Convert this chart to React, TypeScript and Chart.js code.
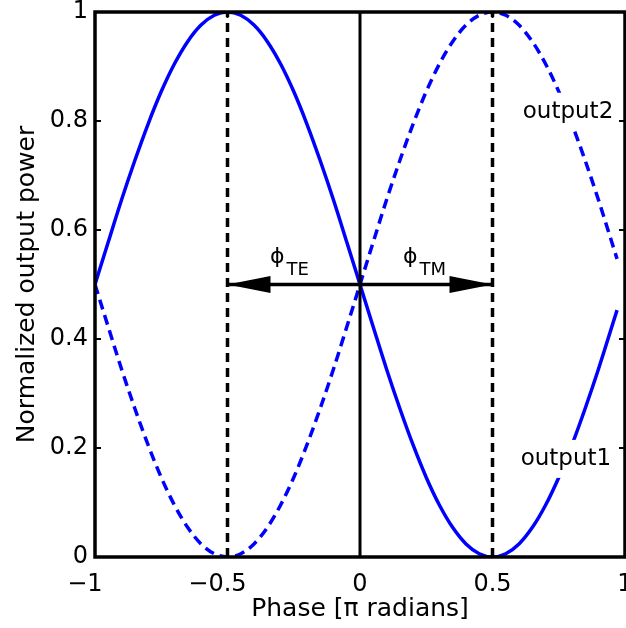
import React, { useEffect, useRef } from 'react';
import { Chart, registerables } from 'chart.js';

Chart.register(...registerables);

const FONT = '"DejaVu Sans", "Liberation Sans", sans-serif';
const BLUE = '#0000ff';
const INK = '#000000';

// Phase in units of pi radians
const PHASE = [
  -1, -0.95, -0.9, -0.85, -0.8, -0.75, -0.7, -0.65, -0.6, -0.55,
  -0.5, -0.45, -0.4, -0.35, -0.3, -0.25, -0.2, -0.15, -0.1, -0.05,
  0, 0.05, 0.1, 0.15, 0.2, 0.25, 0.3, 0.35, 0.4, 0.45,
  0.5, 0.55, 0.6, 0.65, 0.7, 0.75, 0.8, 0.85, 0.9, 0.95, 0.97,
];

// Normalized power at output 1 (solid)
const OUTPUT1 = [
  0.5, 0.578, 0.655, 0.727, 0.794, 0.854, 0.905, 0.946, 0.976, 0.994,
  1.0, 0.994, 0.976, 0.946, 0.905, 0.854, 0.794, 0.727, 0.655, 0.578,
  0.5, 0.422, 0.345, 0.273, 0.206, 0.146, 0.095, 0.054, 0.024, 0.006,
  0.0, 0.006, 0.024, 0.054, 0.095, 0.146, 0.206, 0.273, 0.345, 0.422, 0.453,
];

// Normalized power at output 2 (dashed)
const OUTPUT2 = [
  0.5, 0.422, 0.345, 0.273, 0.206, 0.146, 0.095, 0.054, 0.024, 0.006,
  0.0, 0.006, 0.024, 0.054, 0.095, 0.146, 0.206, 0.273, 0.345, 0.422,
  0.5, 0.578, 0.655, 0.727, 0.794, 0.854, 0.905, 0.946, 0.976, 0.994,
  1.0, 0.994, 0.976, 0.946, 0.905, 0.854, 0.794, 0.727, 0.655, 0.578, 0.547,
];

const X_TICKS = [-1, -0.5, 0, 0.5, 1];
const X_TICK_LABELS = ['−1', '−0.5', '0', '0.5', '1'];
const Y_TICKS = [0, 0.2, 0.4, 0.6, 0.8, 1];
const Y_TICK_LABELS = ['0', '0.2', '0.4', '0.6', '0.8', '1'];

// Reference markers: TE / TM phase points, the zero-phase line, and the arrow level
const PEAK_PHASES = [-0.5, 0.5];
const CENTER_PHASE = 0;
const ARROW_POWER = 0.5;

// Curve names, anchored at the centre of their baseline
const CURVE_LABELS = ['output2', 'output1'];
const CURVE_LABEL_PHASE = [0.785, 0.777];
const CURVE_LABEL_POWER = [0.806, 0.169];

// Phase-shift labels (phi with subscript), anchored at the left of the phi baseline
const PHI_SUBSCRIPTS = ['TE', 'TM'];
const PHI_LABEL_PHASE = [-0.34, 0.162];
const PHI_LABEL_POWER = [0.539, 0.539];

const toPoints = (ys: number[]) => PHASE.map((x, i) => ({ x, y: ys[i] }));

const decorations = {
  id: 'decorations',
  afterDatasetsDraw(chart: any) {
    const { ctx, chartArea, scales } = chart;
    const { left, right, top, bottom } = chartArea;
    const xs = scales.x;
    const ys = scales.y;
    ctx.save();

    // arrow heads at the TE / TM phase points
    const ay = ys.getPixelForValue(ARROW_POWER);
    ctx.fillStyle = INK;
    PEAK_PHASES.forEach((p) => {
      const tip = xs.getPixelForValue(p);
      const dir = p < CENTER_PHASE ? 1 : -1;
      const base = tip + dir * 43;
      ctx.beginPath();
      ctx.moveTo(tip, ay);
      ctx.lineTo(base, ay - 8.5);
      ctx.lineTo(base, ay + 8.5);
      ctx.closePath();
      ctx.fill();
    });

    // curve names on a white patch
    ctx.font = `23px ${FONT}`;
    ctx.textAlign = 'center';
    ctx.textBaseline = 'alphabetic';
    CURVE_LABELS.forEach((text, i) => {
      const cx = xs.getPixelForValue(CURVE_LABEL_PHASE[i]);
      const by = ys.getPixelForValue(CURVE_LABEL_POWER[i]);
      const w = ctx.measureText(text).width;
      ctx.fillStyle = '#ffffff';
      ctx.fillRect(cx - w / 2 - 5, by - 25, w + 10, 38);
      ctx.fillStyle = INK;
      ctx.fillText(text, cx, by);
    });

    // phi labels with subscripts
    ctx.textAlign = 'left';
    PHI_SUBSCRIPTS.forEach((sub, i) => {
      const px = xs.getPixelForValue(PHI_LABEL_PHASE[i]);
      const py = ys.getPixelForValue(PHI_LABEL_POWER[i]);
      ctx.font = `22px ${FONT}`;
      ctx.fillText('ϕ', px, py);
      const pw = ctx.measureText('ϕ').width;
      ctx.font = `18px ${FONT}`;
      ctx.fillText(sub, px + pw + 2, py + 12);
    });

    // axes box
    ctx.strokeStyle = INK;
    ctx.lineWidth = 3.5;
    ctx.strokeRect(left, top, right - left, bottom - top);

    // inward tick marks on all four sides
    ctx.lineWidth = 2;
    ctx.beginPath();
    X_TICKS.forEach((v) => {
      const px = xs.getPixelForValue(v);
      ctx.moveTo(px, bottom);
      ctx.lineTo(px, bottom - 6);
      ctx.moveTo(px, top);
      ctx.lineTo(px, top + 6);
    });
    Y_TICKS.forEach((v) => {
      const py = ys.getPixelForValue(v);
      ctx.moveTo(left, py);
      ctx.lineTo(left + 6, py);
      ctx.moveTo(right, py);
      ctx.lineTo(right - 6, py);
    });
    ctx.stroke();

    // x tick labels, digits centred under the tick
    ctx.font = `24px ${FONT}`;
    ctx.fillStyle = INK;
    ctx.textAlign = 'right';
    ctx.textBaseline = 'alphabetic';
    X_TICKS.forEach((v, i) => {
      const label = X_TICK_LABELS[i];
      const px = xs.getPixelForValue(v);
      const dw = ctx.measureText(label.replace('−', '')).width;
      ctx.fillText(label, px + dw / 2, bottom + 34);
    });

    ctx.restore();
  },
};

export default function App() {
  const canvasRef = useRef<HTMLCanvasElement | null>(null);

  useEffect(() => {
    const canvas = canvasRef.current;
    if (!canvas) return;

    const chart = new Chart(canvas, {
      type: 'line',
      data: {
        datasets: [
          {
            data: [{ x: CENTER_PHASE, y: Y_TICKS[0] }, { x: CENTER_PHASE, y: Y_TICKS[Y_TICKS.length - 1] }],
            borderColor: INK,
            borderWidth: 3,
          },
          ...PEAK_PHASES.map((p) => ({
            data: [{ x: p, y: Y_TICKS[0] }, { x: p, y: Y_TICKS[Y_TICKS.length - 1] }],
            borderColor: INK,
            borderWidth: 3.5,
            borderDash: [9, 6],
          })),
          {
            data: [{ x: PEAK_PHASES[0], y: ARROW_POWER }, { x: PEAK_PHASES[1], y: ARROW_POWER }],
            borderColor: INK,
            borderWidth: 3.5,
          },
          {
            label: 'output1',
            data: toPoints(OUTPUT1),
            borderColor: BLUE,
            borderWidth: 3.5,
            cubicInterpolationMode: 'monotone',
          },
          {
            label: 'output2',
            data: toPoints(OUTPUT2),
            borderColor: BLUE,
            borderWidth: 3.5,
            borderDash: [10, 6],
            cubicInterpolationMode: 'monotone',
          },
        ] as any,
      },
      options: {
        animation: false,
        responsive: false,
        events: [],
        layout: { padding: { top: 12, right: 1, bottom: 0, left: 0 } },
        elements: {
          point: { radius: 0, hoverRadius: 0 },
          line: { fill: false, tension: 0, borderCapStyle: 'butt' },
        },
        plugins: {
          legend: { display: false },
          tooltip: { enabled: false },
        },
        scales: {
          x: {
            type: 'linear',
            min: X_TICKS[0],
            max: X_TICKS[X_TICKS.length - 1],
            grid: { display: false, drawTicks: false },
            border: { display: false },
            ticks: { display: false },
            afterFit: (s: any) => {
              s.height = 71;
              s.paddingLeft = 0;
              s.paddingRight = 0;
            },
            title: {
              display: true,
              text: 'Phase [π radians]',
              color: INK,
              font: { family: FONT, size: 25 },
              padding: { top: 0, bottom: 4 },
            },
          },
          y: {
            type: 'linear',
            min: Y_TICKS[0],
            max: Y_TICKS[Y_TICKS.length - 1],
            grid: { display: false, drawTicks: false },
            border: { display: false },
            afterBuildTicks: (s: any) => {
              s.ticks = Y_TICKS.map((value) => ({ value }));
            },
            ticks: {
              padding: 7,
              color: INK,
              autoSkip: false,
              font: { family: FONT, size: 24 },
              callback: (_v: any, i: number) => Y_TICK_LABELS[i],
            },
            afterFit: (s: any) => {
              s.width = 95;
              s.paddingTop = 0;
              s.paddingBottom = 0;
            },
            title: {
              display: true,
              text: 'Normalized output power',
              color: INK,
              font: { family: FONT, size: 25 },
              padding: { top: 12, bottom: 0 },
            },
          },
        },
      } as any,
      plugins: [decorations],
    });

    return () => chart.destroy();
  }, []);

  return (
    <div style={{ position: 'fixed', left: 0, top: 0, width: 626, height: 628, background: '#fff', overflow: 'hidden' }}>
      <canvas ref={canvasRef} width={626} height={628} style={{ display: 'block' }} />
    </div>
  );
}
